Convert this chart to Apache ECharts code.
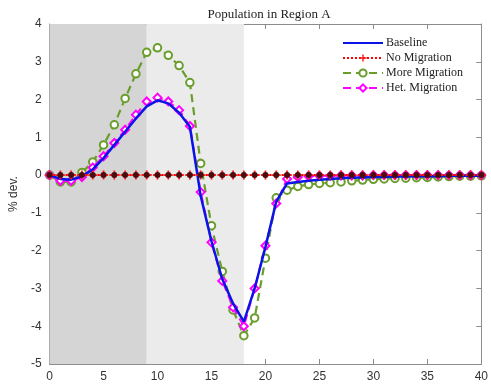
<!DOCTYPE html>
<html><head><meta charset="utf-8">
<script src="https://cdn.jsdelivr.net/npm/echarts@6/dist/echarts.min.js"></script>
<style>html,body{margin:0;padding:0;background:#fff}#c{width:491px;height:392px}</style>
</head><body><div id="c"></div>
<script>
const periods = Array.from({length: 41}, (_, i) => i);
const xTicks = [0, 5, 10, 15, 20, 25, 30, 35, 40];
const yTicks = [-5, -4, -3, -2, -1, 0, 1, 2, 3, 4];
const shadeDark = [0, 9];
const shadeLight = [9, 18];

const baseline = [0, -0.1, -0.12, -0.04, 0.15, 0.45, 0.8, 1.15, 1.5, 1.82, 1.98, 1.9, 1.65, 1.28, -0.55, -1.75, -2.75, -3.4, -3.88, -3.0, -1.9, -0.7, -0.22, -0.18, -0.15, -0.12, -0.1, -0.08, -0.07, -0.06, -0.05, -0.05, -0.04, -0.04, -0.03, -0.03, -0.03, -0.02, -0.02, -0.02, -0.02];
const noMigration = [0, 0, 0, 0, 0, 0, 0, 0, 0, 0, 0, 0, 0, 0, 0, 0, 0, 0, 0, 0, 0, 0, 0, 0, 0, 0, 0, 0, 0, 0, 0, 0, 0, 0, 0, 0, 0, 0, 0, 0, 0];
const moreMigration = [0, -0.18, -0.18, 0.07, 0.35, 0.8, 1.33, 2.03, 2.68, 3.25, 3.37, 3.17, 2.9, 2.45, 0.31, -1.34, -2.55, -3.57, -4.25, -3.78, -2.2, -0.6, -0.4, -0.3, -0.25, -0.22, -0.2, -0.18, -0.15, -0.13, -0.11, -0.1, -0.09, -0.08, -0.07, -0.06, -0.05, -0.04, -0.03, -0.03, -0.02];
const hetMigration = [0, -0.15, -0.15, -0.05, 0.2, 0.5, 0.85, 1.2, 1.6, 1.95, 2.05, 1.95, 1.72, 1.3, -0.45, -1.78, -2.8, -3.5, -4.0, -3.0, -1.87, -0.75, -0.1, -0.05, -0.03, -0.02, -0.02, -0.01, -0.01, -0.01, 0, 0, 0, 0, 0, 0, 0, 0, 0, 0, 0];

const pair = arr => periods.map((p, i) => [p, arr[i]]);
const plus = 'path://M4,0H6V4H10V6H6V10H4V6H0V4H4Z';

const axisCommon = {
  type: 'value', min: 0, max: 40, interval: 5,
  axisLine: {show: true, onZero: false, lineStyle: {color: '#8c8c8c', width: 1}},
  axisTick: {show: true, inside: true, length: 5, lineStyle: {color: '#8c8c8c'}},
  splitLine: {show: false}
};

const chart = echarts.init(document.getElementById('c'), null, {renderer: 'canvas'});
chart.setOption({
  animation: false,
  backgroundColor: '#fff',
  title: {
    text: 'Population in Region A', left: 264, textAlign: 'center', top: 3,
    textStyle: {fontFamily: 'Liberation Serif', fontWeight: 'normal', fontSize: 13, color: '#222'}
  },
  grid: {left: 47, right: 9, top: 24, bottom: 28},
  legend: {
    data: [
      {name: 'Baseline', itemStyle: {opacity: 0}},
      'No Migration', 'More Migration', 'Het. Migration'],
    orient: 'vertical', left: 340, top: 35, itemWidth: 40, itemHeight: 9, itemGap: 3,
    backgroundColor: '#fff', padding: [2, 4, 2, 2],
    textStyle: {fontFamily: 'Liberation Serif', fontSize: 12, color: '#222', padding: [0, 0, 0, -2]}
  },
  xAxis: [
    Object.assign({}, axisCommon, {position: 'bottom',
      axisLabel: {color: '#333', fontSize: 12, fontFamily: 'Liberation Sans', margin: 7,
        formatter: v => xTicks.includes(v) ? String(v) : ''}}),
    Object.assign({}, axisCommon, {position: 'top', axisLabel: {show: false}})
  ],
  yAxis: [
    {type: 'value', min: -5, max: 4, interval: 1, position: 'left',
      name: '% dev.', nameLocation: 'middle', nameGap: 28, nameRotate: 90,
      nameTextStyle: {fontFamily: 'Liberation Sans', fontSize: 12, color: '#333'},
      axisLine: {show: true, onZero: false, lineStyle: {color: '#8c8c8c'}},
      axisTick: {show: true, inside: true, length: 5, lineStyle: {color: '#8c8c8c'}},
      axisLabel: {color: '#333', fontSize: 12, fontFamily: 'Liberation Sans', margin: 8,
        formatter: v => yTicks.includes(v) ? String(v) : ''},
      splitLine: {show: false}},
    {type: 'value', min: -5, max: 4, interval: 1, position: 'right',
      axisLine: {show: true, onZero: false, lineStyle: {color: '#8c8c8c'}},
      axisTick: {show: true, inside: true, length: 5, lineStyle: {color: '#8c8c8c'}},
      axisLabel: {show: false}, splitLine: {show: false}}
  ],
  series: [
    {name: 'bands', type: 'line', data: [], z: 0, silent: true,
      markArea: {silent: true, itemStyle: {opacity: 1},
        data: [
          [{xAxis: shadeDark[0], itemStyle: {color: '#d5d5d5'}}, {xAxis: shadeDark[1]}],
          [{xAxis: shadeLight[0], itemStyle: {color: '#ebebeb'}}, {xAxis: shadeLight[1]}]
        ]}},
    {name: 'More Migration', type: 'line', data: pair(moreMigration), z: 2,
      symbol: 'emptyCircle', symbolSize: 7.5, showAllSymbol: true,
      lineStyle: {color: '#6a9e2c', width: 2.2, type: [8, 5]},
      itemStyle: {color: '#6a9e2c', borderColor: '#6a9e2c', borderWidth: 2}},
    {name: 'Het. Migration', type: 'line', data: pair(hetMigration), z: 3,
      symbol: 'emptyDiamond', symbolSize: 8, showAllSymbol: true,
      lineStyle: {color: '#ff00ff', width: 2, type: [8, 5]},
      itemStyle: {color: '#ff00ff', borderColor: '#ff00ff', borderWidth: 2}},
    {name: 'Baseline', type: 'line', data: pair(baseline), z: 4, symbol: 'none',
      lineStyle: {color: '#0a14e6', width: 2.5}, itemStyle: {color: '#0a14e6'}},
    {name: 'No Migration', type: 'line', data: pair(noMigration), z: 5,
      symbol: plus, symbolSize: 9, showAllSymbol: true,
      lineStyle: {color: '#ff0000', width: 2, type: 'dotted'},
      itemStyle: {color: '#ff1a1a'}},
    {name: 'noMigDots', type: 'scatter', data: pair(noMigration), z: 6, symbol: 'circle', symbolSize: 6,
      itemStyle: {color: '#4a0c0c', opacity: 1}}
  ]
});
</script></body></html>
